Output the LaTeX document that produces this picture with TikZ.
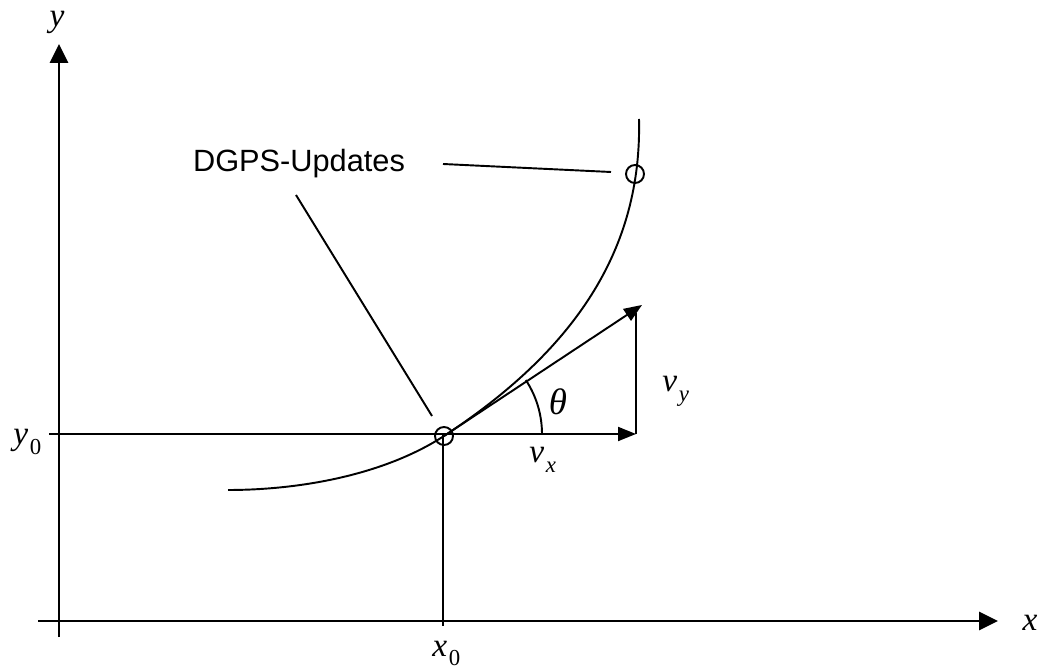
\documentclass[tikz,border=0pt]{standalone}
\usepackage{fontspec}
\setmainfont{Liberation Serif}
\newfontfamily\labelfont{Liberation Sans}
\usetikzlibrary{arrows.meta}
\newcommand{\withsub}[2]{#1\hspace{0.05em}\raisebox{-0.28em}{\fontsize{13}{13}\selectfont #2}}

\begin{document}
\begin{tikzpicture}[
    x=0.02cm, y=-0.02cm,
    % Ejes gruesos con punta triangular
    axis/.style={line width=1.7pt, -{Triangle[length=0.38cm, width=0.36cm]}},
    vec/.style={line width=1.1pt, -{Triangle[length=0.36cm, width=0.28cm]}},
    guide/.style={line width=1.1pt},
    % Puntos de actualizacion DGPS
    upd/.style={draw, circle, line width=1.1pt, minimum size=0.36cm, inner sep=0pt},
    lbl/.style={font=\fontsize{19}{19}\selectfont\itshape, inner sep=0pt},
    note/.style={font=\labelfont\fontsize{17.5}{17.5}\selectfont, inner sep=0pt}
]
\useasboundingbox (0,0) rectangle (1038,668);

% --- Ejes ---
\coordinate (xstart) at (38,621);
\coordinate (xend) at (998,621);
\coordinate (ystart) at (59,637);
\coordinate (yend) at (59,44);
\draw[axis] (xstart) -- (xend);
\draw[axis] (ystart) -- (yend);
\node[lbl] (xlab) at (1030,623) {x};
\node[lbl] (ylab) at (57,22) {y};

% --- Punto inicial ---
\node[upd] (p0) at (444,436) {};
\node[upd] (p1) at (635,174) {};
\coordinate (y0left) at (49,434);
\coordinate (vxend) at (636,434);
\coordinate (x0top) at (443,434);
\coordinate (x0bot) at (443,626);
\draw[vec] (y0left) -- (vxend);
\draw[guide] (x0top) -- (x0bot);
\node[lbl, anchor=base west] (x0lab) at (432,656) {\withsub{x}{\upshape 0}};
\node[lbl, anchor=base west] (y0lab) at (13,445) {\withsub{y}{\upshape 0}};

% --- Trayectoria ---
\coordinate (tstart) at (228,490);
\coordinate (tend) at (639,119);
\draw[guide] (tstart) .. controls (300,490) and (384,475) .. (p0.center)
    .. controls (575,350) and (642,250) .. (tend);

% --- Velocidad ---
\coordinate (vtip) at (642,305);
\coordinate (vybot) at (636,434);
\coordinate (vytop) at (636,313);
\draw[vec] (p0.center) -- (vtip);
\draw[guide] (vybot) -- (vytop);
\draw[guide] (542,434) arc[start angle=0, end angle=-33.4, radius=98];
\node[lbl, font=\fontsize{21}{21}\selectfont\itshape] (theta) at (558,402) {θ};
\node[lbl, anchor=base west] (vx) at (529,463) {\withsub{v}{x}};
\node[lbl, anchor=base west] (vy) at (662,392) {\withsub{v}{y}};

% --- Etiqueta DGPS ---
\node[note] (dgps) at (299,164) {DGPS-Updates};
\coordinate (l1a) at (296,195);
\coordinate (l1b) at (432,416);
\coordinate (l2a) at (443,164);
\coordinate (l2b) at (611,172);
\draw[guide] (l1a) -- (l1b);
\draw[guide] (l2a) -- (l2b);

\end{tikzpicture}
\end{document}
